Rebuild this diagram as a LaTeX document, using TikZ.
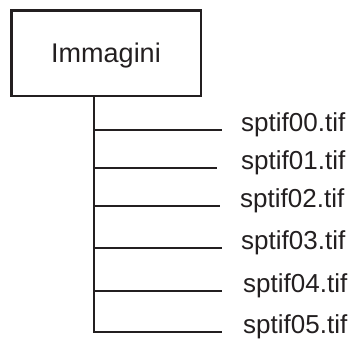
\documentclass[tikz,border=0pt]{standalone}
\usepackage{fontspec}
\setmainfont{Liberation Sans}
\usetikzlibrary{positioning}
\definecolor{ink}{HTML}{231F20}
\tikzset{
  folder/.style={draw=ink,line width=2.5pt,minimum width=189.5pt,minimum height=85.5pt,inner sep=0pt,text depth=0pt,font=\fontsize{27}{31}\selectfont,text=ink},
  file/.style={anchor=base west,inner sep=0pt,font=\fontsize{26}{30}\selectfont,text=ink},
  br/.style={draw=ink,line width=2.5pt},
}

\begin{document}
\begin{tikzpicture}[x=1pt,y=-1pt]
\useasboundingbox (0,0) rectangle (352,341);
\node[folder] (img) at (106,53) {Immagini};
% trunk points and branch ends
\coordinate (t0) at (94,130);  \coordinate (e0) at (222,130);
\coordinate (t1) at (94,168);  \coordinate (e1) at (217,168);
\coordinate (t2) at (94,206);  \coordinate (e2) at (220,206);
\coordinate (t3) at (94,248);  \coordinate (e3) at (222,248);
\coordinate (t4) at (94,291);  \coordinate (e4) at (222,291);
\coordinate (t5) at (94,332);  \coordinate (e5) at (222,332);
\node[file] (f0) at (241,131) {sptif00.tif};
\node[file] (f1) at (241,169) {sptif01.tif};
\node[file] (f2) at (240,207) {sptif02.tif};
\node[file] (f3) at (241,249) {sptif03.tif};
\node[file] (f4) at (243,292) {sptif04.tif};
\node[file] (f5) at (243,333) {sptif05.tif};
\draw[br] (img.south -| t5) -- (t5) -- (e5);
\draw[br] (t0) -- (e0); \draw[br] (t1) -- (e1);
\draw[br] (t2) -- (e2); \draw[br] (t3) -- (e3);
\draw[br] (t4) -- (e4);
\end{tikzpicture}
\end{document}
